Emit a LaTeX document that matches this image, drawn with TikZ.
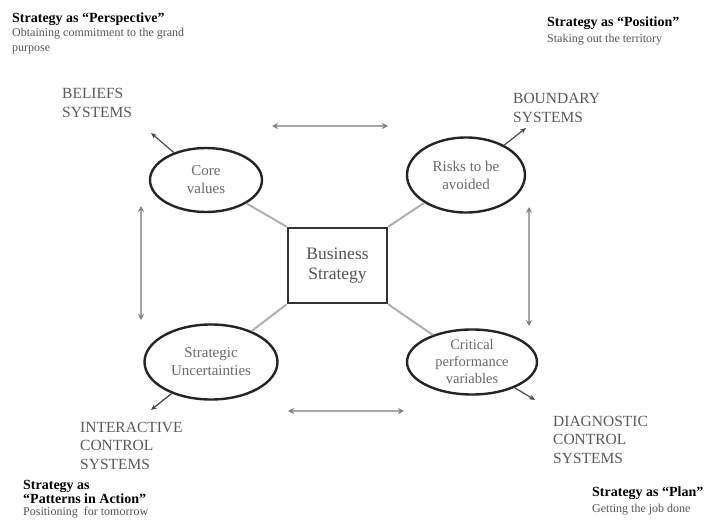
\documentclass[tikz,border=0pt]{standalone}
\usepackage{fontspec}
\setmainfont{Liberation Serif}
\usetikzlibrary{shapes.geometric,arrows.meta}
\definecolor{systxt}{HTML}{5A5A5A}
\definecolor{subtxt}{HTML}{555555}
\definecolor{elltxt}{HTML}{6A6A6A}
\definecolor{ellline}{HTML}{252525}
\definecolor{conn}{HTML}{B0B0B0}
\definecolor{dbl}{HTML}{A8A8A8}
\definecolor{outar}{HTML}{4A4A4A}
\begin{document}
\begin{tikzpicture}[x=1pt,y=-1pt,
  sysl/.style={anchor=base west, align=left, text=systxt, inner sep=0pt,
    font=\fontsize{15.5}{18.5}\selectfont},
  headl/.style={anchor=base west, align=left, text=subtxt, inner sep=0pt,
    font=\fontsize{12}{15}\selectfont},
  ell/.style={ellipse, draw=ellline, line width=2.4pt, inner sep=0pt},
  elltext/.style={text=elltxt, align=center, font=\fontsize{15}{18}\selectfont},
  conline/.style={draw=conn, line width=2pt},
  dblarrow/.style={draw=dbl, line width=1.8pt, {Stealth[length=6pt,width=6pt,color=gray]}-{Stealth[length=6pt,width=6pt,color=gray]}},
  outarrow/.style={draw=outar, line width=1.2pt, -{Stealth[length=6pt,width=5pt]}}
]
\useasboundingbox (0,0) rectangle (705,525);
\fill[white] (0,0) rectangle (705,525);

% central box
\node[draw=black!80, line width=2.6pt, minimum width=99pt, minimum height=75pt,
  text=subtxt, align=center, font=\fontsize{17.5}{20}\selectfont] (box) at (337.5,265.5)
  {Business\\Strategy};

% ellipses
\node[ell, minimum width=112pt, minimum height=64pt,
  label={[elltext]center:Core\\values}] (core) at (206,180) {};
\node[ell, minimum width=118pt, minimum height=75pt,
  label={[elltext]center:Risks to be\\avoided}] (risk) at (466,175) {};
\node[ell, minimum width=133pt, minimum height=75pt,
  label={[elltext]center:Strategic\\Uncertainties}] (strat) at (211,362) {};
\node[ell, minimum width=130pt, minimum height=65pt,
  label={[elltext, font=\fontsize{14.5}{17}\selectfont]center:Critical\\performance\\variables}] (crit) at (472,362) {};

% connectors box - ellipses
\draw[conline] (box.north west) -- (core);
\draw[conline] (box.north east) -- (risk);
\draw[conline] (box.south west) -- (strat);
\draw[conline] (box.south east) -- (crit);

% outward arrows
\coordinate (belT) at (151,133);
\coordinate (bouT) at (526,128);
\coordinate (intT) at (151,410);
\coordinate (diaT) at (535,400);
\draw[outarrow] (core) -- (belT);
\draw[outarrow] (risk) -- (bouT);
\draw[outarrow] (strat) -- (intT);
\draw[outarrow] (crit) -- (diaT);

% double arrows
\coordinate (tL) at (272,126);
\coordinate (tR) at (388,126);
\coordinate (bL) at (288,411);
\coordinate (bR) at (404,411);
\coordinate (lT) at (141,206);
\coordinate (lB) at (141,320);
\coordinate (rT) at (529,207);
\coordinate (rB) at (529,326);
\draw[dblarrow] (tL) -- (tR);
\draw[dblarrow] (bL) -- (bR);
\draw[dblarrow] (lT) -- (lB);
\draw[dblarrow] (rT) -- (rB);

% system labels (anchor = baseline of last line)
\node[sysl] (bel) at (62,117) {BELIEFS\\SYSTEMS};
\node[sysl] (bou) at (513,122) {BOUNDARY\\SYSTEMS};
\node[sysl] (int) at (80,469) {INTERACTIVE\\CONTROL\\SYSTEMS};
\node[sysl] (dia) at (553,463) {DIAGNOSTIC\\CONTROL\\SYSTEMS};

% strategy headers
\node[headl, font=\fontsize{12}{14.5}\selectfont] (persp) at (12,51)
  {{\fontsize{14}{14.5}\selectfont\bfseries\color{black}Strategy as “Perspective”}\\Obtaining commitment to the grand\\purpose};
\node[headl, font=\fontsize{12}{16}\selectfont] (posit) at (547,42)
  {{\fontsize{14}{16}\selectfont\bfseries\color{black}Strategy as “Position”}\\Staking out the territory};
\node[headl, font=\fontsize{12}{11.5}\selectfont] (patt) at (23,515)
  {{\fontsize{14}{11.5}\selectfont\bfseries\color{black}Strategy as}\\{\fontsize{14}{11.5}\selectfont\bfseries\color{black}“Patterns in Action”}\\Positioning\ \ for tomorrow};
\node[headl, font=\fontsize{12}{16}\selectfont] (plan) at (592,512)
  {{\fontsize{14}{16}\selectfont\bfseries\color{black}Strategy as “Plan”}\\Getting the job done};
\end{tikzpicture}
\end{document}
